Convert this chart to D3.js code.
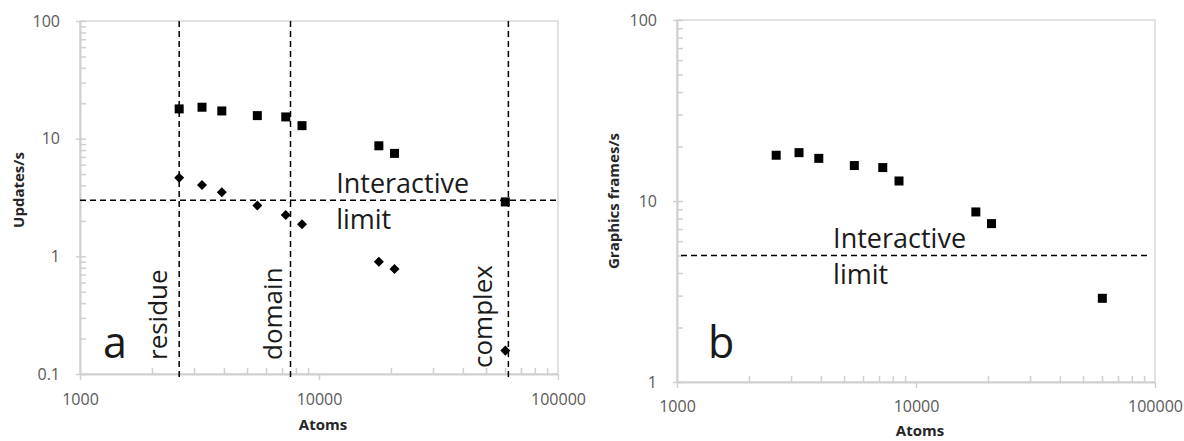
<!DOCTYPE html>
<html>
<head>
<meta charset="utf-8">
<script src="https://cdn.jsdelivr.net/npm/d3@7"></script>
<style>
  body { margin: 0; background: #fff; }
  svg { font-family: "Open Sans", sans-serif; }
  .tick text { fill: #595959; font-size: 16px; font-family: "Open Sans", sans-serif; }
  .tick line { stroke: #d0d0d0; stroke-width: 1.5; }
  .domain { stroke: #d0d0d0; stroke-width: 2; }
</style>
</head>
<body>
<div class="chart"></div>
<script>
// data
var atoms = [2600, 3240, 3920, 5520, 7260, 8490, 17800, 20700, 60200];
var squareValues = [17.9, 18.5, 17.2, 15.7, 15.3, 12.9, 8.7, 7.5, 2.9];
var diamondValues = [4.66, 4.04, 3.5, 2.7, 2.25, 1.87, 0.9, 0.78, 0.158];
var frameValues = [17.9, 18.5, 17.2, 15.7, 15.3, 12.9, 8.7, 7.5, 2.9];

var sizeNames = ["residue", "domain", "complex"];
var sizeAtoms = [2600, 7600, 62000];

var xTicks = [1000, 10000, 100000];
var yTicksA = [0.1, 1, 10, 100];
var yTicksB = [1, 10, 100];
var limitA = 3;
var limitB = 5;

var svgWidth = 1184;
var svgHeight = 441;

var svg = d3.select(".chart")
  .append("svg")
  .attr("width", svgWidth)
  .attr("height", svgHeight);

// one panel: frame, axes, limit line, labels
function drawPanel(p) {
  var width = p.right - p.left;
  var height = p.bottom - p.top;

  var g = svg.append("g")
    .attr("transform", `translate(${p.left}, ${p.top})`);

  var x = d3.scaleLog().domain([1000, 100000]).range([0, width]);
  var y = d3.scaleLog().domain(p.yDomain).range([height, 0]);

  // box
  g.append("rect")
    .attr("width", width)
    .attr("height", height)
    .attr("fill", "none")
    .attr("stroke", "#d9d9d9")
    .attr("stroke-width", 1.5);

  var xMinor = x.ticks().filter(d => xTicks.indexOf(d) < 0);

  // minor ticks inside
  g.append("g")
    .attr("transform", `translate(0, ${height})`)
    .call(d3.axisBottom(x).tickValues(xMinor).tickSize(-6).tickSizeOuter(0).tickFormat(""))
    .call(a => a.select(".domain").remove());

  g.append("g")
    .call(d3.axisLeft(y).tickValues(y.ticks()).tickSize(-6).tickSizeOuter(0).tickFormat(""))
    .call(a => a.select(".domain").remove());

  // major axes
  g.append("g")
    .attr("transform", `translate(0, ${height})`)
    .call(d3.axisBottom(x).tickValues(xTicks).tickSize(6).tickSizeOuter(0)
      .tickPadding(p.xPad).tickFormat(d3.format("d")));

  g.append("g")
    .call(d3.axisLeft(y).tickValues(p.yTicks).tickSize(4).tickSizeOuter(0)
      .tickPadding(16).tickFormat(d => d < 1 ? d3.format(".1f")(d) : d3.format("d")(d)));

  // axis titles
  g.append("text")
    .attr("x", width / 2 + 4)
    .attr("y", height + p.titleDy)
    .attr("text-anchor", "middle")
    .attr("font-size", "15px")
    .attr("font-weight", "bold")
    .attr("fill", "#262626")
    .text("Atoms");

  g.append("text")
    .attr("transform", "rotate(-90)")
    .attr("x", -p.yTitleCenter)
    .attr("y", -p.yTitleX)
    .attr("text-anchor", "middle")
    .attr("font-size", "15px")
    .attr("font-weight", "bold")
    .attr("fill", "#262626")
    .text(p.yTitle);

  // interactive limit
  g.append("line")
    .attr("x1", p.limitInset)
    .attr("x2", width - p.limitInset)
    .attr("y1", y(p.limit))
    .attr("y2", y(p.limit))
    .attr("stroke", "black")
    .attr("stroke-width", 1.5)
    .attr("stroke-dasharray", "6,4");

  g.append("text")
    .attr("x", x(p.limitAt))
    .attr("y", y(p.limit) - 7)
    .attr("font-size", "27px")
    .attr("fill", "#1a1a1a")
    .text("Interactive");

  g.append("text")
    .attr("x", x(p.limitAt))
    .attr("y", y(p.limit) + 29)
    .attr("font-size", "27px")
    .attr("fill", "#1a1a1a")
    .text("limit");

  // panel letter
  g.append("text")
    .attr("x", p.letterX)
    .attr("y", 358 - p.top)
    .attr("font-size", "43px")
    .attr("fill", "#1a1a1a")
    .text(p.letter);

  return {g: g, x: x, y: y, height: height};
}

var panelA = drawPanel({
  left: 80, top: 21, right: 558, bottom: 374,
  yDomain: [0.1, 100], yTicks: yTicksA, xPad: 14,
  titleDy: 56, yTitle: "Updates/s", yTitleCenter: 169, yTitleX: 56,
  limit: limitA, limitAt: 11800, limitInset: 0,
  letter: "a", letterX: 23
});

var panelB = drawPanel({
  left: 677, top: 20, right: 1155, bottom: 382,
  yDomain: [1, 100], yTicks: yTicksB, xPad: 13,
  titleDy: 54, yTitle: "Graphics frames/s", yTitleCenter: 181, yTitleX: 58,
  limit: limitB, limitAt: 4500, limitInset: 4,
  letter: "b", letterX: 31
});

// size boundaries in panel a
var labelDx = [-12, -9, -16];
var labelBottom = [360, 360, 368];

panelA.g.selectAll(".boundary")
  .data(sizeAtoms)
  .enter()
  .append("line")
  .attr("class", "boundary")
  .attr("x1", d => panelA.x(d))
  .attr("x2", d => panelA.x(d))
  .attr("y1", 0)
  .attr("y2", panelA.height + 4)
  .attr("stroke", "black")
  .attr("stroke-width", 1.5)
  .attr("stroke-dasharray", "6,4");

panelA.g.selectAll(".boundaryLabel")
  .data(sizeNames)
  .enter()
  .append("text")
  .attr("class", "boundaryLabel")
  .attr("transform", (d, i) =>
    `translate(${panelA.x(sizeAtoms[i]) + labelDx[i]}, ${labelBottom[i] - 21}) rotate(-90)`)
  .attr("font-size", "26px")
  .attr("fill", "#1a1a1a")
  .text(d => d);

// squares
function drawSquares(panel, values) {
  panel.g.selectAll(".sq")
    .data(values)
    .enter()
    .append("rect")
    .attr("class", "sq")
    .attr("x", (d, i) => panel.x(atoms[i]) - 4.5)
    .attr("y", d => panel.y(d) - 4.5)
    .attr("width", 9)
    .attr("height", 9)
    .attr("fill", "black");
}

drawSquares(panelA, squareValues);
drawSquares(panelB, frameValues);

// diamonds
panelA.g.selectAll(".dia")
  .data(diamondValues)
  .enter()
  .append("path")
  .attr("class", "dia")
  .attr("d", d3.symbol().type(d3.symbolDiamond2).size(64))
  .attr("transform", (d, i) => `translate(${panelA.x(atoms[i])}, ${panelA.y(d)})`)
  .attr("fill", "black");
</script>
</body>
</html>
